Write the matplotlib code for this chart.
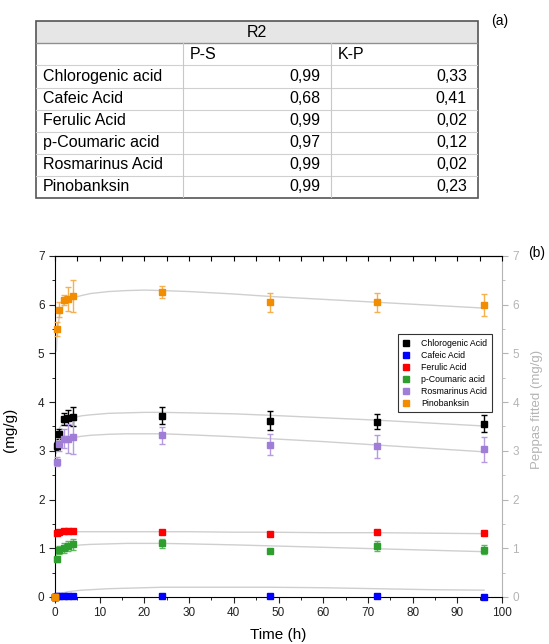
import matplotlib.pyplot as plt
import numpy as np
from matplotlib.lines import Line2D
from matplotlib.patches import Rectangle
from matplotlib.ticker import MultipleLocator

plt.rcParams["font.family"] = ["Liberation Sans", "DejaVu Sans"]

# ---- table (a) ----
compounds = ["Chlorogenic acid", "Cafeic Acid", "Ferulic Acid",
             "p-Coumaric acid", "Rosmarinus Acid", "Pinobanksin"]
r2_ps = ["0,99", "0,68", "0,99", "0,97", "0,99", "0,99"]
r2_kp = ["0,33", "0,41", "0,02", "0,12", "0,02", "0,23"]

# ---- chart (b) ----
legend_names = ["Chlorogenic Acid", "Cafeic Acid", "Ferulic Acid",
                "p-Coumaric acid", "Rosmarinus Acid", "Pinobanksin"]
time_h = [0, 0.5, 1, 2, 3, 4, 24, 48, 72, 96]
chloro = [0, 3.10, 3.35, 3.65, 3.68, 3.70, 3.72, 3.62, 3.60, 3.56]
chloro_err = [0, 0.08, 0.10, 0.12, 0.15, 0.20, 0.17, 0.20, 0.15, 0.18]
cafeic = [0, 0.02, 0.03, 0.03, 0.03, 0.03, 0.03, 0.02, 0.03, 0.01]
cafeic_err = [0, 0.01, 0.01, 0.01, 0.01, 0.01, 0.01, 0.01, 0.01, 0.01]
ferulic = [0, 1.31, 1.34, 1.35, 1.35, 1.35, 1.33, 1.30, 1.34, 1.32]
ferulic_err = [0, 0.03, 0.03, 0.03, 0.03, 0.03, 0.03, 0.03, 0.02, 0.02]
coumaric = [0, 0.77, 0.97, 1.00, 1.05, 1.08, 1.10, 0.95, 1.04, 0.97]
coumaric_err = [0, 0.05, 0.08, 0.10, 0.10, 0.12, 0.10, 0.03, 0.10, 0.09]
rosmar = [0, 2.78, 3.15, 3.25, 3.25, 3.28, 3.32, 3.13, 3.09, 3.03]
rosmar_err = [0, 0.10, 0.15, 0.20, 0.30, 0.35, 0.17, 0.22, 0.23, 0.25]
pino = [0, 5.50, 5.90, 6.10, 6.12, 6.18, 6.26, 6.05, 6.05, 5.99]
pino_err = [0, 0.15, 0.15, 0.10, 0.25, 0.32, 0.13, 0.20, 0.20, 0.23]

# Peppas fitted curves
fit_t = [0.3, 0.5, 1, 2, 3, 4, 6, 8, 12, 16, 20, 24, 30, 40, 48, 60, 72, 84, 96]
fit_pino = [5.05, 5.45, 5.78, 6.02, 6.10, 6.14, 6.19, 6.23, 6.27, 6.29, 6.30,
            6.29, 6.27, 6.22, 6.17, 6.11, 6.05, 5.99, 5.93]
fit_chloro = [3.10, 3.30, 3.47, 3.60, 3.65, 3.68, 3.72, 3.74, 3.77, 3.78, 3.79,
              3.79, 3.78, 3.76, 3.73, 3.68, 3.63, 3.57, 3.51]
fit_rosmar = [2.95, 3.05, 3.15, 3.22, 3.25, 3.27, 3.30, 3.32, 3.34, 3.35, 3.35,
              3.35, 3.33, 3.29, 3.25, 3.19, 3.12, 3.05, 2.98]
fit_ferulic = [1.30, 1.32, 1.33, 1.34, 1.34, 1.34, 1.34, 1.34, 1.34, 1.34, 1.34,
               1.34, 1.34, 1.33, 1.33, 1.32, 1.32, 1.31, 1.30]
fit_coumaric = [0.85, 0.92, 0.97, 1.01, 1.03, 1.05, 1.07, 1.08, 1.09, 1.10, 1.10,
                1.10, 1.09, 1.07, 1.05, 1.02, 0.99, 0.96, 0.93]
fit_cafeic = [0.01, 0.03, 0.06, 0.09, 0.11, 0.12, 0.14, 0.15, 0.17, 0.18, 0.19,
              0.20, 0.20, 0.20, 0.20, 0.19, 0.17, 0.15, 0.14]

colors = ["#000000", "#0000ff", "#ff0000", "#2e9e2e", "#a07ed8", "#f28c00"]
err_colors = ["#000000", "#3030ff", "#ff5050", "#5cb85c", "#b69be0", "#f6b04f"]

fig = plt.figure(figsize=(5.49, 6.44), dpi=100)

# ---------- table ----------
ax_t = fig.add_axes([0.0656, 0.6925, 0.805, 0.2745])
n_rows = len(compounds) + 2
ax_t.set_xlim(0, 1)
ax_t.set_ylim(n_rows, 0)
ax_t.axis("off")
col_edges = [0, 0.3326, 0.6674, 1.0]
ax_t.add_patch(Rectangle((0, 0), 1, 1, facecolor="#e6e6e6", edgecolor="none"))
for r in range(2, n_rows):
    ax_t.plot([0, 1], [r, r], color="#d0d0d0", lw=0.8)
ax_t.plot([0, 1], [1, 1], color="#909090", lw=1.0)
for xe in col_edges[1:-1]:
    ax_t.plot([xe, xe], [1, n_rows], color="#c8c8c8", lw=0.8)
ax_t.add_patch(Rectangle((0, 0), 1, n_rows, facecolor="none",
                         edgecolor="#555555", lw=1.2, clip_on=False))
tfs = 11.5
ax_t.text(0.5, 0.5, "R2", ha="center", va="center", fontsize=tfs)
ax_t.text(0.348, 1.5, "P-S", ha="left", va="center", fontsize=tfs)
ax_t.text(0.683, 1.5, "K-P", ha="left", va="center", fontsize=tfs)
for i, (name, ps, kp) in enumerate(zip(compounds, r2_ps, r2_kp)):
    y = i + 2.5
    ax_t.text(0.016, y, name, ha="left", va="center", fontsize=tfs)
    ax_t.text(0.643, y, ps, ha="right", va="center", fontsize=tfs)
    ax_t.text(0.975, y, kp, ha="right", va="center", fontsize=tfs)
fig.text(0.911, 0.967, "(a)", ha="center", va="center", fontsize=10)

# ---------- chart ----------
ax = fig.add_axes([0.1002, 0.073, 0.8142, 0.5295])
ax2 = ax.twinx()
ax.set_zorder(ax2.get_zorder() + 1)
ax.patch.set_visible(False)

fits = [fit_chloro, fit_cafeic, fit_ferulic, fit_coumaric, fit_rosmar, fit_pino]
for f in fits:
    ax2.plot(fit_t, f, color="#cfcfcf", lw=1.0)

series = [(chloro, chloro_err), (cafeic, cafeic_err), (ferulic, ferulic_err),
          (coumaric, coumaric_err), (rosmar, rosmar_err), (pino, pino_err)]
for (vals, errs), c, ec in zip(series, colors, err_colors):
    ax.errorbar(time_h, vals, yerr=errs, fmt="s", color=c, ecolor=ec,
                markersize=5, elinewidth=1.0, capsize=2.5, capthick=1.0,
                clip_on=False, zorder=3)

ax.set_xlim(0, 100)
ax.set_ylim(0, 7)
ax2.set_ylim(0, 7)
ax.xaxis.set_major_locator(MultipleLocator(10))
ax.xaxis.set_minor_locator(MultipleLocator(5))
ax.yaxis.set_major_locator(MultipleLocator(1))
ax.yaxis.set_minor_locator(MultipleLocator(0.5))
ax2.yaxis.set_major_locator(MultipleLocator(1))
ax2.yaxis.set_minor_locator(MultipleLocator(0.5))

ax.tick_params(axis="both", which="major", direction="out", length=4,
               labelsize=8.5, colors="#222222")
ax.tick_params(axis="both", which="minor", direction="out", length=2.5)
for side in ["left", "bottom", "top"]:
    ax.spines[side].set_color("#000000")
ax.spines["right"].set_visible(False)

grey = "#b4b4b4"
ax2.spines["right"].set_color(grey)
for side in ["left", "bottom", "top"]:
    ax2.spines[side].set_visible(False)
ax2.tick_params(axis="y", which="major", direction="out", length=4,
                labelsize=8.5, colors=grey)
ax2.tick_params(axis="y", which="minor", direction="out", length=2.5, colors=grey)

top = ax.secondary_xaxis("top")
top.xaxis.set_major_locator(MultipleLocator(5))
top.tick_params(axis="x", direction="in", length=3.5, labeltop=False)

ax.set_xlabel("Time (h)", fontsize=11, labelpad=6)
ax.set_ylabel("(mg/g)", fontsize=11)
ax.yaxis.set_label_coords(-0.085, 0.49)
ax2.set_ylabel("Peppas fitted (mg/g)", fontsize=9.5, color=grey)
ax2.yaxis.set_label_coords(1.065, 0.55)

handles = [Line2D([], [], marker="s", linestyle="none", color=c, markersize=4.5)
           for c in colors]
leg = ax.legend(handles, legend_names, loc="upper right",
                bbox_to_anchor=(0.977, 0.77), fontsize=6.3,
                frameon=True, fancybox=False, edgecolor="#000000",
                handlelength=1.0, handletextpad=1.2, borderpad=0.5,
                labelspacing=0.35, borderaxespad=0)
leg.get_frame().set_linewidth(0.8)
fig.text(0.978, 0.607, "(b)", ha="center", va="center", fontsize=10)

fig.savefig("out.png", dpi=100)
